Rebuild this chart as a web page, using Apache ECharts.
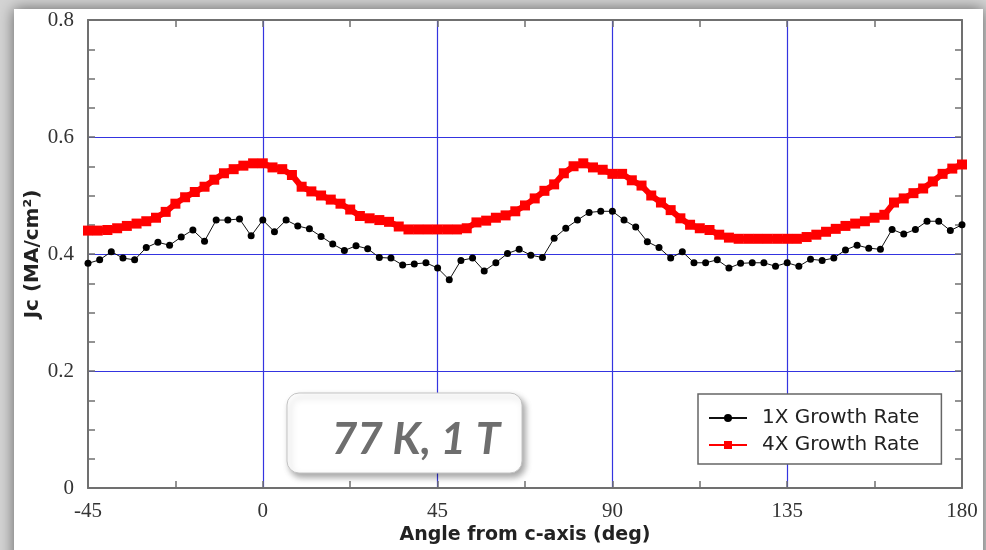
<!DOCTYPE html>
<html>
<head>
<meta charset="utf-8">
<script src="https://cdn.jsdelivr.net/npm/echarts@6/dist/echarts.min.js"></script>
<style>
html,body{margin:0;padding:0;background:#fff;}
#chart{width:986px;height:550px;}
</style>
</head>
<body>
<div id="chart"></div>
<script>
// ---- data ----
const xTicks = [-45, 0, 45, 90, 135, 180];
const yTicks = [0, 0.2, 0.4, 0.6, 0.8];
const seriesNames = ['1X Growth Rate', '4X Growth Rate'];

const angles1X = [-45,-42,-39,-36,-33,-30,-27,-24,-21,-18,-15,-12,-9,-6,-3,0,3,6,9,12,15,18,21,24,27,30,33,36,39,42,45,48,51,54,57,60,63,66,69,72,75,78,81,84,87,90,93,96,99,102,105,108,111,114,117,120,123,126,129,132,135,138,141,144,147,150,153,156,159,162,165,168,171,174,177,180];
const jc1X = [0.384,0.390,0.404,0.393,0.390,0.411,0.420,0.415,0.429,0.441,0.422,0.458,0.458,0.460,0.431,0.458,0.438,0.458,0.448,0.443,0.430,0.417,0.406,0.414,0.409,0.394,0.393,0.381,0.383,0.385,0.376,0.356,0.389,0.393,0.371,0.385,0.401,0.408,0.398,0.394,0.427,0.444,0.458,0.471,0.473,0.473,0.458,0.446,0.421,0.411,0.393,0.404,0.385,0.385,0.390,0.376,0.384,0.385,0.385,0.379,0.385,0.379,0.391,0.389,0.393,0.407,0.415,0.410,0.408,0.442,0.434,0.442,0.456,0.456,0.440,0.450];

const angles4X = [-45,-42.5,-40,-37.5,-35,-32.5,-30,-27.5,-25,-22.5,-20,-17.5,-15,-12.5,-10,-7.5,-5,-2.5,0,2.5,5,7.5,10,12.5,15,17.5,20,22.5,25,27.5,30,32.5,35,37.5,40,42.5,45,47.5,50,52.5,55,57.5,60,62.5,65,67.5,70,72.5,75,77.5,80,82.5,85,87.5,90,92.5,95,97.5,100,102.5,105,107.5,110,112.5,115,117.5,120,122.5,125,127.5,130,132.5,135,137.5,140,142.5,145,147.5,150,152.5,155,157.5,160,162.5,165,167.5,170,172.5,175,177.5,180];
const jc4X = [0.440,0.440,0.441,0.444,0.448,0.452,0.456,0.462,0.472,0.486,0.497,0.506,0.515,0.527,0.538,0.545,0.551,0.555,0.555,0.548,0.545,0.535,0.515,0.507,0.500,0.493,0.486,0.476,0.465,0.461,0.458,0.455,0.447,0.442,0.442,0.442,0.442,0.442,0.442,0.444,0.454,0.457,0.462,0.466,0.473,0.483,0.495,0.508,0.519,0.538,0.550,0.555,0.548,0.544,0.537,0.537,0.526,0.517,0.500,0.488,0.475,0.461,0.450,0.444,0.441,0.433,0.428,0.426,0.426,0.426,0.426,0.426,0.426,0.426,0.429,0.433,0.438,0.443,0.448,0.452,0.456,0.462,0.467,0.488,0.495,0.504,0.512,0.524,0.537,0.546,0.553,0.557];

const xTitle = 'Angle from c-axis (deg)';
const yTitle = 'Jc (MA/cm²)';
const annotation = '77 K, 1 T';

// ---- chart ----
const chart = echarts.init(document.getElementById('chart'), null, {renderer: 'canvas'});
const axisColor = '#707070';
const gridBlue = '#3434e0';
const xMin = xTicks[0], xMax = xTicks[xTicks.length - 1];
const xInt = xTicks[1] - xTicks[0];
const yMin = yTicks[0], yMax = yTicks[yTicks.length - 1];
const yInt = yTicks[1] - yTicks[0];

const labelFont = {fontFamily: 'Liberation Serif', fontSize: 21, color: '#333'};
const tickStyle = {color: axisColor, width: 1.5};

function frameAxis(extra) {
  return Object.assign({
    type: 'value',
    axisLine: {show: true, onZero: false, lineStyle: {color: axisColor, width: 2}},
    axisTick: {show: true, inside: true, length: 7, lineStyle: tickStyle},
    axisLabel: {show: false},
    splitLine: {show: false},
    splitArea: {show: false}
  }, extra);
}

chart.setOption({
  animation: false,
  backgroundColor: '#ffffff',
  graphic: [
    {type: 'rect', z: -10, silent: true, shape: {x: 0, y: 0, width: 986, height: 550}, style: {fill: '#d4d4d4'}},
    {type: 'rect', z: -9, silent: true, shape: {x: 14, y: 9, width: 969, height: 560},
      style: {fill: '#ffffff', shadowBlur: 14, shadowColor: 'rgba(0,0,0,0.55)'}},
    {type: 'rect', z: 100, silent: true, shape: {x: 287, y: 393, width: 235, height: 80, r: 12},
      style: {fill: '#ffffff', stroke: '#c4c4c4', lineWidth: 1, shadowBlur: 6, shadowOffsetX: 3, shadowOffsetY: 4, shadowColor: 'rgba(0,0,0,0.35)'}},
    {type: 'text', z: 101, silent: true, x: 416, y: 440,
      style: {text: annotation, fill: '#6e6e6e', font: 'italic bold 44px Lato', textAlign: 'center', textVerticalAlign: 'middle'}}
  ],
  grid: {left: 88, right: 24, top: 20, bottom: 62},
  legend: {
    left: 698, top: 394, orient: 'vertical',
    backgroundColor: '#fff',
    borderColor: '#666', borderWidth: 1.5, borderRadius: 0,
    padding: [14, 22, 9, 10],
    itemGap: 7, itemWidth: 38, itemHeight: 10,
    textStyle: {fontFamily: 'DejaVu Sans', fontSize: 20, color: '#222', padding: [0, 0, 0, 10]},
    data: seriesNames
  },
  xAxis: [
    frameAxis({
      position: 'bottom', min: xMin, max: xMax, interval: xInt,
      minorTick: {show: true, splitNumber: 2, length: 7, lineStyle: tickStyle},
      axisLabel: Object.assign({show: true, margin: 13}, labelFont),
      splitLine: {show: true, showMinLine: false, showMaxLine: false, lineStyle: {color: gridBlue, width: 1.2}},
      name: xTitle, nameLocation: 'middle', nameGap: 38, nameMoveOverlap: false,
      nameTextStyle: {fontFamily: 'DejaVu Sans', fontWeight: 'bold', fontSize: 19, color: '#222'}
    }),
    frameAxis({
      position: 'top', min: xMin, max: xMax, interval: xInt,
      minorTick: {show: true, splitNumber: 2, length: 7, lineStyle: tickStyle}
    })
  ],
  yAxis: [
    frameAxis({
      position: 'left', min: yMin, max: yMax, interval: yInt,
      minorTick: {show: true, splitNumber: 4, length: 7, lineStyle: tickStyle},
      axisLabel: Object.assign({show: true, margin: 14}, labelFont),
      splitLine: {show: true, showMinLine: false, showMaxLine: false, lineStyle: {color: gridBlue, width: 1.2}},
      name: yTitle, nameLocation: 'middle', nameGap: 45, nameMoveOverlap: false,
      nameTextStyle: {fontFamily: 'DejaVu Sans', fontWeight: 'bold', fontSize: 20, color: '#222'}
    }),
    frameAxis({
      position: 'right', min: yMin, max: yMax, interval: yInt,
      minorTick: {show: true, splitNumber: 4, length: 7, lineStyle: tickStyle}
    })
  ],
  series: [
    {
      name: seriesNames[0], type: 'line', xAxisIndex: 0, yAxisIndex: 0,
      data: angles1X.map((a, i) => [a, jc1X[i]]),
      symbol: 'circle', symbolSize: 7, showAllSymbol: true,
      lineStyle: {color: '#111', width: 1},
      itemStyle: {color: '#000'}, z: 3
    },
    {
      name: seriesNames[1], type: 'line', xAxisIndex: 0, yAxisIndex: 0,
      data: angles4X.map((a, i) => [a, jc4X[i]]),
      symbol: 'rect', symbolSize: 10, showAllSymbol: true,
      lineStyle: {color: '#ff0000', width: 6},
      itemStyle: {color: '#ff0000'}, z: 2
    }
  ]
});
</script>
</body>
</html>
